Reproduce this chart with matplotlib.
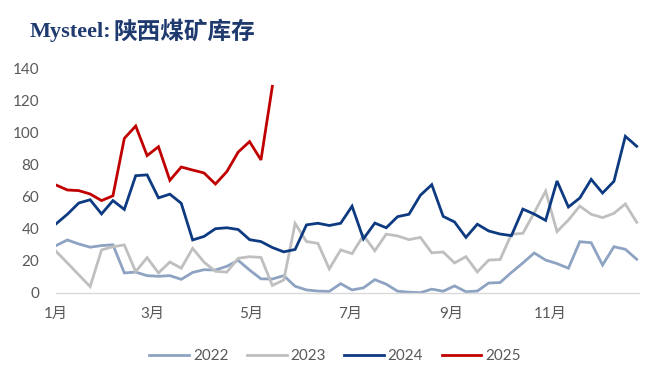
# Shaanxi coal mine inventory chart
##############################################################################

# IMPORT STATEMENTS
##############################################################################
import numpy as np
import matplotlib
matplotlib.use('Agg')
import matplotlib.pyplot as plt


# DATA
##############################################################################
years = ['2022', '2023', '2024', '2025']

stock_2022 = [29.5, 33, 30.5, 28.5, 29.5, 30, 12.5, 13, 10.8, 10.4, 10.8, 8.5, 12.8,
              14.5, 14.3, 16.6, 20.3, 14.3, 8.8, 8.7, 10.8, 4.2, 1.9, 1.2, 1.0, 5.8,
              1.9, 3.2, 8.3, 5.5, 1.1, 0.5, 0.2, 2.4, 1.1, 4.4, 0.8, 1.2, 6.2, 6.5,
              12.8, 18.7, 24.9, 20.5, 18.3, 15.4, 31.9, 31.3, 17.4, 28.8, 27.2, 21]

stock_2023 = [26, 18.7, 11.3, 4, 26.8, 28.8, 29.9, 13.3, 22, 12.5, 19.3, 15.4, 27.8,
              19.2, 13.5, 13, 21.6, 22.6, 22.1, 4.7, 8.1, 43.3, 32, 30.9, 15, 26.8,
              24.5, 35.8, 26.3, 36.6, 35.5, 33.2, 34.6, 25, 25.5, 18.7, 22.6, 13.1,
              20.5, 20.8, 36.6, 37.1, 50, 63.4, 38.2, 45.4, 54.1, 49, 46.9, 49.6,
              55.4, 44]

stock_2024 = [43, 49, 56, 58, 49.2, 57.5, 52, 73, 73.5, 59.2, 61.5, 55.8, 33, 35.2,
              40, 40.6, 39.5, 33.2, 32, 28.3, 25.6, 27.1, 42.4, 43.4, 42, 43.4, 54,
              33.7, 43.5, 40.6, 47.5, 49, 60.8, 67.4, 47.7, 44.2, 34.6, 42.8, 38.6,
              36.7, 35.7, 52.2, 49.1, 45.2, 69.7, 53.5, 59.1, 70.7, 62.2, 69.5, 97.5,
              91.3]

stock_2025 = [67.2, 64.1, 63.7, 61.6, 57.5, 60.5, 96.2, 103.9, 85.5, 91, 70.1, 78.4,
              76.5, 74.7, 67.8, 75.5, 87.7, 94.2, 82.8, 128.6]

# month starts (day of year) and the labels shown
month_days = [0, 59, 120, 181, 243, 304]
month_labels = ['1月', '3月', '5月', '7月', '9月', '11月']

y_ticks = [0, 20, 40, 60, 80, 100, 120, 140]

colors = ['#8EA3C2', '#BFBFBF', '#0D3A80', '#C00000']


# PLOT
##############################################################################
plt.rcParams['font.family'] = ['Lato', 'Noto Sans CJK SC', 'DejaVu Sans']

fig = plt.figure(figsize=(6.6, 3.85), dpi=100)
ax = fig.add_axes([56 / 660, 1 - 293 / 385, 583 / 660, 225 / 385])

series = [stock_2022, stock_2023, stock_2024, stock_2025]
for year, vals, c in zip(years, series, colors):
    weeks = np.arange(len(vals))
    ax.plot(weeks, vals, color=c, linewidth=2.0, label=year, solid_joinstyle='miter')

ax.set_xlim(0, 51.2)
ax.set_ylim(0, 140)
ax.set_yticks(y_ticks)
ax.set_xticks(np.array(month_days) / 7.0)
ax.set_xticklabels(month_labels)
ax.tick_params(axis='both', length=0, labelsize=11, labelcolor='#595959')
ax.tick_params(axis='x', pad=10)
ax.tick_params(axis='y', pad=12)

for side in ['top', 'right', 'left']:
    ax.spines[side].set_visible(False)
ax.spines['bottom'].set_color('#D9D9D9')
ax.spines['bottom'].set_linewidth(1.0)

# title: latin part in a bold serif, chinese part a bit larger
title_color = '#1F3A6E'
t1 = fig.text(30 / 660, 1 - 32 / 385, 'Mysteel:', fontsize=16, fontweight='bold',
              color=title_color, va='center', ha='left', family='Liberation Serif')
fig.canvas.draw()
bb = t1.get_window_extent()
fig.text(bb.x1 / 660 + 2 / 660, 1 - 32 / 385, '陕西煤矿库存', fontsize=17,
         fontweight='bold', color=title_color, va='center', ha='left',
         family=['Noto Sans CJK SC', 'DejaVu Sans'])

leg = fig.legend(loc='center', bbox_to_anchor=(335 / 660, 1 - 356 / 385), ncol=4,
                 frameon=False, fontsize=11, handlelength=2.6, handletextpad=0.25,
                 columnspacing=1.2)
for t in leg.get_texts():
    t.set_color('#595959')

fig.savefig('out.png', dpi=100, facecolor='white')
